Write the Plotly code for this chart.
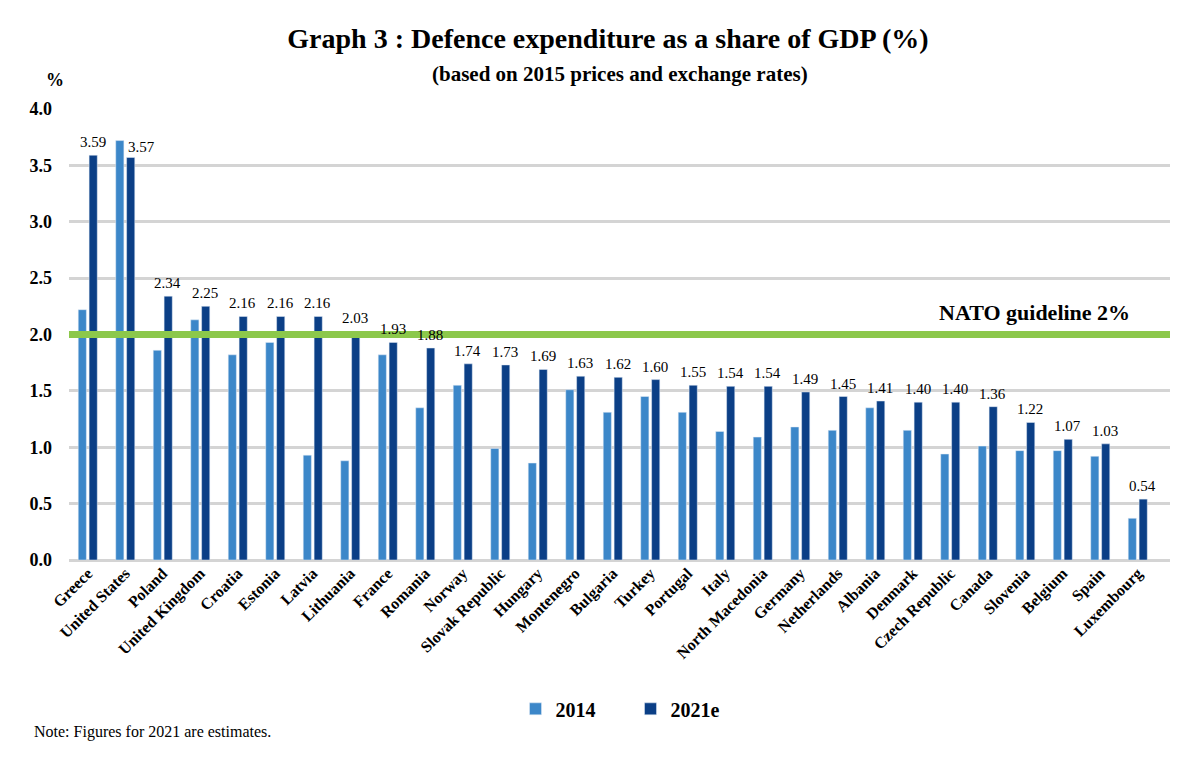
import plotly.graph_objects as go

# Defence expenditure as a share of GDP (%) - NATO allies
countries = ['Greece', 'United States', 'Poland', 'United Kingdom', 'Croatia', 'Estonia',
             'Latvia', 'Lithuania', 'France', 'Romania', 'Norway', 'Slovak Republic',
             'Hungary', 'Montenegro', 'Bulgaria', 'Turkey', 'Portugal', 'Italy',
             'North Macedonia', 'Germany', 'Netherlands', 'Albania', 'Denmark',
             'Czech Republic', 'Canada', 'Slovenia', 'Belgium', 'Spain', 'Luxembourg']
share_2014 = [2.22, 3.72, 1.86, 2.13, 1.82, 1.93, 0.93, 0.88, 1.82, 1.35, 1.55, 0.99,
              0.86, 1.51, 1.31, 1.45, 1.31, 1.14, 1.09, 1.18, 1.15, 1.35, 1.15, 0.94,
              1.01, 0.97, 0.97, 0.92, 0.37]
share_2021 = [3.59, 3.57, 2.34, 2.25, 2.16, 2.16, 2.16, 2.03, 1.93, 1.88, 1.74, 1.73,
              1.69, 1.63, 1.62, 1.60, 1.55, 1.54, 1.54, 1.49, 1.45, 1.41, 1.40, 1.40,
              1.36, 1.22, 1.07, 1.03, 0.54]
guideline = 2.0

serif = 'Liberation Serif'

fig = go.Figure()
fig.add_trace(go.Bar(x=countries, y=share_2014, name='2014', marker_color='#3c87c9'))
fig.add_trace(go.Bar(x=countries, y=share_2021, name='2021e', marker_color='#0b3f86'))

# value labels on the 2021e bars
annotations = []
for c, v in zip(countries, share_2021):
    if c == 'United States':
        annotations.append(dict(x=c, y=v, text=f'{v:.2f}', showarrow=False, xanchor='left',
                                yanchor='bottom', xshift=1, yshift=0,
                                font=dict(family=serif, size=15, color='black')))
    else:
        annotations.append(dict(x=c, y=v, text=f'{v:.2f}', showarrow=False, xanchor='center',
                                yanchor='bottom', xshift=5, yshift=3,
                                font=dict(family=serif, size=15, color='black')))

annotations.append(dict(xref='paper', yref='y', x=0.877, y=guideline, yshift=22,
                        text='<b>NATO guideline 2%</b>', showarrow=False,
                        xanchor='center', yanchor='middle',
                        font=dict(family=serif, size=22, color='black')))
annotations.append(dict(xref='paper', yref='paper', x=0.5, y=1.078,
                        xanchor='center', yanchor='middle',
                        text='<b>(based on 2015 prices and exchange rates)</b>', showarrow=False,
                        font=dict(family=serif, size=21, color='black')))
annotations.append(dict(xref='paper', yref='paper', x=-0.013, y=1.064, text='<b>%</b>',
                        xanchor='center', yanchor='middle', showarrow=False,
                        font=dict(family=serif, size=18, color='black')))
annotations.append(dict(xref='paper', yref='paper', x=-0.034, y=-0.381, xanchor='left',
                        yanchor='middle', text='Note: Figures for 2021 are estimates.',
                        showarrow=False, font=dict(family=serif, size=16, color='black')))

fig.update_layout(
    width=1200, height=762,
    margin=dict(l=61, r=38, t=101, b=210),
    plot_bgcolor='white', paper_bgcolor='white',
    barmode='group', bargap=0.42, bargroupgap=0.25,
    title=dict(text='<b>Graph 3 : Defence expenditure as a share of GDP (%)</b>',
               x=0.5, xanchor='center', y=0.961, yanchor='middle',
               font=dict(family=serif, size=28, color='black')),
    xaxis=dict(tickangle=-45, tickfont=dict(family=serif, size=16, color='black', weight='bold'),
               range=[-0.5, 28.86], showgrid=False, showline=False, ticks=''),
    yaxis=dict(range=[0, 4.0], dtick=0.5, tickformat='.1f', showgrid=True,
               gridcolor='#d4d4d4', gridwidth=2.5, zeroline=True, zerolinecolor='#d4d4d4',
               zerolinewidth=2.5, ticks='', ticklabelstandoff=16,
               tickfont=dict(family=serif, size=18, color='black', weight='bold')),
    legend=dict(orientation='h', x=0.51, xanchor='center', y=-0.33, yanchor='middle',
                font=dict(family=serif, size=20, color='black', weight='bold'),
                itemwidth=30, entrywidth=70, traceorder='normal'),
    shapes=[dict(type='line', xref='paper', yref='y', x0=0, x1=1, y0=guideline, y1=guideline,
                 line=dict(color='#8cc84b', width=7), layer='above')],
    annotations=annotations,
    font=dict(family=serif),
)

fig.write_html('out.html')
